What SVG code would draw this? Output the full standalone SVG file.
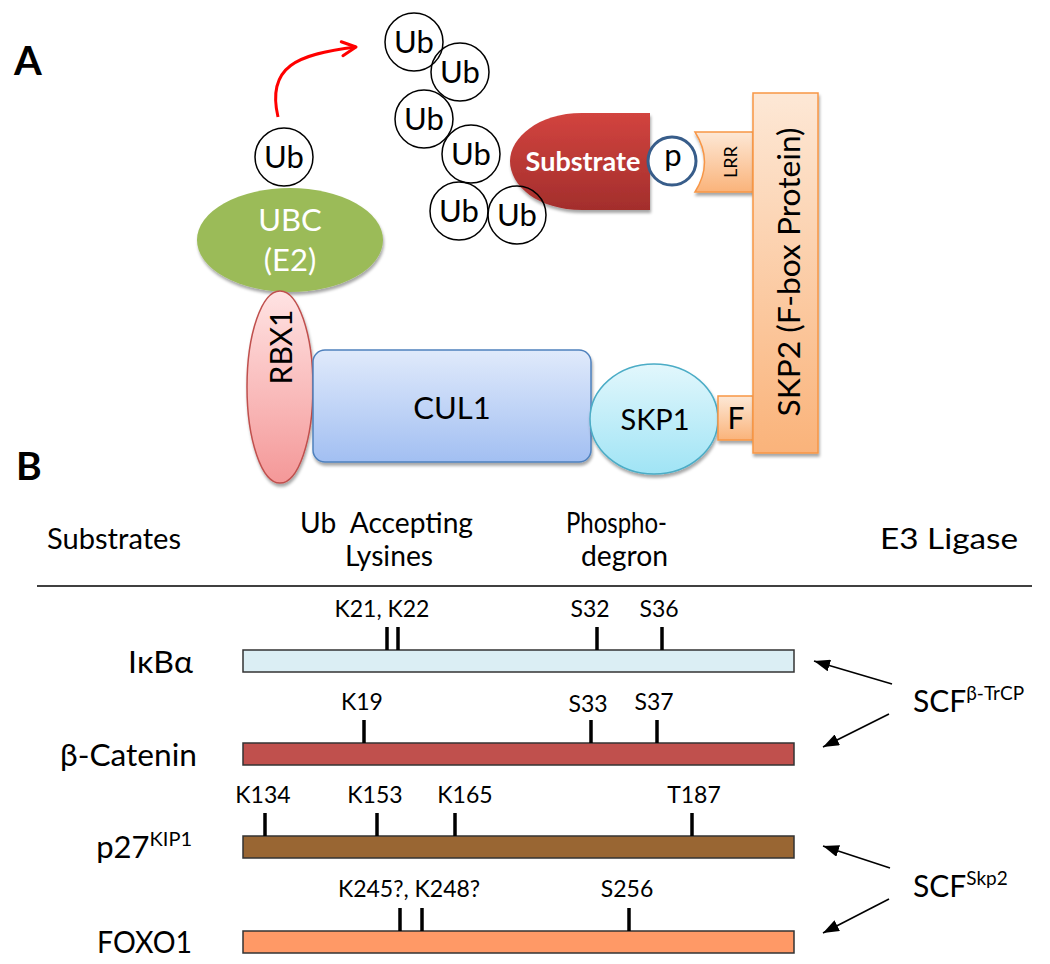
<svg xmlns="http://www.w3.org/2000/svg" width="1050" height="964" viewBox="0 0 1050 964">
<style>
text{font-family:Lato,"Open Sans","Liberation Sans",sans-serif;fill:#000}
.ub{font-size:31px;text-anchor:middle}
.ubc{fill:none;stroke:#000;stroke-width:1.5}
.hdr{font-size:29px}
.lab{font-size:31px;text-anchor:end}
.site{font-size:23px;text-anchor:middle}
.tick{stroke:#000;stroke-width:3.5}
.bar{stroke:#333;stroke-width:1.5}
.conn{stroke:#000;stroke-width:1.6;fill:none;marker-end:url(#ah)}
.orng{fill:url(#gOr);stroke:#F79646;stroke-width:1.5}
</style>
<defs>
<linearGradient id="gOr" x1="0" y1="0" x2="0" y2="1"><stop offset="0" stop-color="#FDE8D6"/><stop offset="1" stop-color="#FAB37A"/></linearGradient>
<linearGradient id="gRbx" x1="0" y1="0" x2="0" y2="1"><stop offset="0" stop-color="#FFE3E3"/><stop offset="1" stop-color="#F49898"/></linearGradient>
<linearGradient id="gCul" x1="0" y1="0" x2="0" y2="1"><stop offset="0" stop-color="#E0EAFB"/><stop offset="1" stop-color="#A2BFF2"/></linearGradient>
<linearGradient id="gSkp1" x1="0" y1="0" x2="0" y2="1"><stop offset="0" stop-color="#E2F7FC"/><stop offset="1" stop-color="#A0E4F5"/></linearGradient>
<linearGradient id="gSub" x1="0" y1="0" x2="0" y2="1"><stop offset="0" stop-color="#D2443F"/><stop offset="1" stop-color="#A32E2C"/></linearGradient>
<filter id="sh" x="-20%" y="-20%" width="140%" height="150%"><feDropShadow dx="1" dy="3" stdDeviation="1.5" flood-color="#000" flood-opacity="0.35"/></filter>
<marker id="ah" viewBox="0 0 16 12" refX="16" refY="6" markerWidth="16" markerHeight="12" markerUnits="userSpaceOnUse" orient="auto"><path d="M0,0 L16,6 L0,12 Z" fill="#000"/></marker>
<marker id="rh" viewBox="0 0 18 18" refX="16" refY="9" markerWidth="18" markerHeight="18" markerUnits="userSpaceOnUse" orient="auto"><path d="M2,2 L16,9 L2,16" fill="none" stroke="#F00" stroke-width="3" stroke-linecap="round" stroke-linejoin="round"/></marker>
</defs>
<rect width="1050" height="964" fill="#fff"/>

<!-- Panel A -->
<text x="14" y="75" style="font-size:40px;font-weight:bold">A</text>

<g id="connectors-a">
<path d="M278,117 C266,66 298,54 356,47" fill="none" stroke="#F00" stroke-width="3" marker-end="url(#rh)"/>
</g>

<g id="ubc">
<ellipse cx="290" cy="240" rx="93" ry="52" fill="#9BBB59" filter="url(#sh)"/>
<text x="290" y="231" style="font-size:31px;fill:#fff;text-anchor:middle">UBC</text>
<text x="290" y="271" style="font-size:31px;fill:#fff;text-anchor:middle">(E2)</text>
</g>
<g id="ub-e2"><circle class="ubc" cx="284" cy="157" r="29"/><text class="ub" x="284" y="168">Ub</text></g>

<g id="rbx1">
<ellipse cx="280" cy="387" rx="33" ry="96" fill="url(#gRbx)" stroke="#C0504D" stroke-width="1.5" filter="url(#sh)"/>
<text transform="translate(292,347) rotate(-90)" style="font-size:30px;text-anchor:middle">RBX1</text>
</g>
<g id="cul1">
<rect x="313" y="350" width="278" height="112" rx="12" fill="url(#gCul)" stroke="#4F81BD" stroke-width="1.5" filter="url(#sh)"/>
<text x="452" y="419" style="font-size:31px;text-anchor:middle">CUL1</text>
</g>
<g id="skp1">
<ellipse cx="654" cy="419" rx="64" ry="55" fill="url(#gSkp1)" stroke="#4BACC6" stroke-width="1.5" filter="url(#sh)"/>
<text x="655" y="430" style="font-size:29px;text-anchor:middle">SKP1</text>
</g>
<g id="fbox">
<rect class="orng" x="718" y="396" width="35" height="44" filter="url(#sh)"/>
<text x="736" y="429" style="font-size:30px;text-anchor:middle">F</text>
</g>
<g id="lrr">
<path class="orng" d="M695,132 L753,132 L753,192 L695,192 Q714,162 695,132 Z" filter="url(#sh)"/>
<text transform="translate(737,162) rotate(-90)" style="font-size:18px;text-anchor:middle">LRR</text>
</g>
<g id="skp2">
<rect class="orng" x="753" y="93" width="65" height="360" filter="url(#sh)"/>
<text transform="translate(800,272) rotate(-90)" style="font-size:31px;text-anchor:middle" textLength="289" lengthAdjust="spacingAndGlyphs">SKP2 (F-box Protein)</text>
</g>
<g id="substrate">
<path d="M650,113 L582,113 C538,113 510,138 510,161 C510,186 538,210 582,210 L650,210 Z" fill="url(#gSub)" filter="url(#sh)"/>
<text x="583" y="171" style="font-size:27px;font-weight:bold;fill:#fff;text-anchor:middle">Substrate</text>
</g>
<g id="phospho">
<circle cx="672" cy="161" r="24" fill="#fff" stroke="#385D8A" stroke-width="3"/>
<text x="673" y="166" style="font-size:31px;text-anchor:middle">p</text>
</g>
<g id="ub-chain">
<circle class="ubc" cx="414" cy="42" r="29"/><text class="ub" x="414" y="53">Ub</text>
<circle class="ubc" cx="460" cy="72" r="29"/><text class="ub" x="460" y="83">Ub</text>
<circle class="ubc" cx="424" cy="119" r="29"/><text class="ub" x="424" y="130">Ub</text>
<circle class="ubc" cx="471" cy="154" r="29"/><text class="ub" x="471" y="165">Ub</text>
<circle class="ubc" cx="459" cy="211" r="29"/><text class="ub" x="459" y="222">Ub</text>
<circle class="ubc" cx="517" cy="215" r="29"/><text class="ub" x="517" y="226">Ub</text>
</g>

<!-- Panel B -->
<text x="16" y="480" style="font-size:39px;font-weight:bold">B</text>
<g id="header">
<text class="hdr" x="47" y="549" textLength="134" lengthAdjust="spacingAndGlyphs">Substrates</text>
<text class="hdr" x="300" y="533" xml:space="preserve" textLength="173" lengthAdjust="spacingAndGlyphs">Ub  Accepting</text>
<text class="hdr" x="345" y="566" textLength="88" lengthAdjust="spacingAndGlyphs">Lysines</text>
<text class="hdr" x="566" y="533" textLength="101" lengthAdjust="spacingAndGlyphs">Phospho-</text>
<text class="hdr" x="581" y="566" textLength="87" lengthAdjust="spacingAndGlyphs">degron</text>
<text class="hdr" x="880" y="549" textLength="138" lengthAdjust="spacingAndGlyphs">E3 Ligase</text>
<line x1="37" y1="586" x2="1032" y2="586" stroke="#000" stroke-width="1.5"/>
</g>

<g id="ikba">
<text class="lab" x="193" y="673" textLength="65" lengthAdjust="spacingAndGlyphs">IκBα</text>
<rect class="bar" x="243" y="650" width="551" height="22" fill="#DBEEF4"/>
<line class="tick" x1="387" y1="627" x2="387" y2="650"/><line class="tick" x1="398" y1="627" x2="398" y2="650"/>
<line class="tick" x1="597" y1="627" x2="597" y2="650"/><line class="tick" x1="662" y1="627" x2="662" y2="650"/>
<text class="site" x="382" y="617">K21, K22</text>
<text class="site" x="590" y="617">S32</text>
<text class="site" x="659" y="617">S36</text>
</g>
<g id="bcat">
<text class="lab" x="197" y="766" textLength="137" lengthAdjust="spacingAndGlyphs">β-Catenin</text>
<rect class="bar" x="243" y="743" width="551" height="22" fill="#C0504D"/>
<line class="tick" x1="364" y1="720" x2="364" y2="743"/>
<line class="tick" x1="591" y1="720" x2="591" y2="743"/><line class="tick" x1="657" y1="720" x2="657" y2="743"/>
<text class="site" x="362" y="710">K19</text>
<text class="site" x="588" y="712">S33</text>
<text class="site" x="654" y="710">S37</text>
</g>
<g id="p27">
<text class="lab" x="192" y="858">p27<tspan style="font-size:20px" dy="-12">KIP1</tspan></text>
<rect class="bar" x="243" y="836" width="551" height="22" fill="#996633"/>
<line class="tick" x1="265" y1="813" x2="265" y2="836"/><line class="tick" x1="377" y1="813" x2="377" y2="836"/>
<line class="tick" x1="455" y1="813" x2="455" y2="836"/><line class="tick" x1="692" y1="813" x2="692" y2="836"/>
<text class="site" x="263" y="803">K134</text>
<text class="site" x="375" y="803">K153</text>
<text class="site" x="465" y="803">K165</text>
<text class="site" x="694" y="803">T187</text>
</g>
<g id="foxo1">
<text class="lab" x="192" y="953" textLength="95" lengthAdjust="spacingAndGlyphs">FOXO1</text>
<rect class="bar" x="243" y="931" width="551" height="22" fill="#FF9966"/>
<line class="tick" x1="400" y1="908" x2="400" y2="931"/><line class="tick" x1="422" y1="908" x2="422" y2="931"/>
<line class="tick" x1="629" y1="908" x2="629" y2="931"/>
<text class="site" x="409" y="897">K245?, K248?</text>
<text class="site" x="627" y="897">S256</text>
</g>

<g id="e3-btrcp"><text x="913" y="712" style="font-size:30px">SCF<tspan style="font-size:19px" dy="-12">β-TrCP</tspan></text></g>
<g id="e3-skp2"><text x="913" y="897" style="font-size:30px">SCF<tspan style="font-size:19px" dy="-12">Skp2</tspan></text></g>

<g id="connectors">
<line class="conn" x1="892" y1="684" x2="814" y2="661"/>
<line class="conn" x1="889" y1="714" x2="823" y2="747"/>
<line class="conn" x1="890" y1="868" x2="823" y2="846"/>
<line class="conn" x1="889" y1="899" x2="823" y2="933"/>
</g>
</svg>
